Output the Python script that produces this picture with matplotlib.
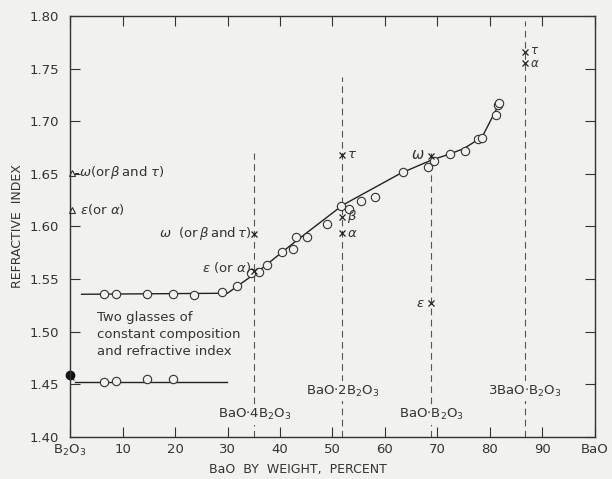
import numpy as np
import matplotlib as mpl
import matplotlib.pyplot as plt

# glass data, BaO wt% vs refractive index
upper_x = [6.5, 8.8, 14.6, 19.6, 23.7, 28.9, 31.9, 34.5, 36.0, 37.5, 40.3, 42.5, 43.0,
           45.1, 48.9, 51.7, 53.1, 55.4, 58.1, 63.5, 68.1, 69.4, 72.4, 75.2, 77.7,
           78.4, 81.1, 81.6, 81.8]
upper_n = [1.5356, 1.5356, 1.5356, 1.5360, 1.5345, 1.5380, 1.5430, 1.5556, 1.5570,
           1.5635, 1.5760, 1.5787, 1.5900, 1.5900, 1.6025, 1.6196, 1.6164, 1.6240,
           1.6284, 1.6520, 1.6570, 1.6627, 1.6690, 1.6720, 1.6830, 1.6840, 1.7060,
           1.7156, 1.7172]
upper_curve_x = [2.2, 30.0, 36.0, 43.0, 52.0, 63.0, 68.8, 72.4, 75.0, 78.5, 81.8]
upper_curve_n = [1.5356, 1.5366, 1.5580, 1.5860, 1.6205, 1.6506, 1.6630, 1.6690,
                 1.6740, 1.6850, 1.7170]

lower_x = [6.5, 8.8, 14.6, 19.6]
lower_n = [1.4526, 1.4535, 1.4555, 1.4555]
lower_line_x = [1.0, 29.9]
lower_line_n = [1.4526, 1.4526]
b2o3_glass = (0.0, 1.4585)

# crystal indices (x marks)
cryst_x = [35.1, 35.1, 51.9, 51.9, 51.9, 68.7, 68.7, 86.7, 86.7]
cryst_n = [1.593, 1.558, 1.668, 1.6094, 1.5936, 1.667, 1.527, 1.766, 1.755]

# B2O3 crystal (triangles)
tri_n = [1.651, 1.616]

# compounds: position, top of dashed line, label height
comp_names = [r'BaO$\cdot$4B$_2$O$_3$', r'BaO$\cdot$2B$_2$O$_3$',
              r'BaO$\cdot$B$_2$O$_3$', r'3BaO$\cdot$B$_2$O$_3$']
comp_x = [35.1, 51.9, 68.8, 86.7]
comp_top = [1.670, 1.742, 1.670, 1.795]
comp_label_n = [1.421, 1.4437, 1.421, 1.4437]

bg = '#f1f1ef'
ink = '#333333'
mpl.rcParams['font.family'] = 'DejaVu Sans'
mpl.rcParams['font.size'] = 10
mpl.rcParams['text.color'] = ink
mpl.rcParams['axes.edgecolor'] = ink
mpl.rcParams['xtick.color'] = ink
mpl.rcParams['ytick.color'] = ink
mpl.rcParams['mathtext.fontset'] = 'dejavusans'

fig = plt.figure(figsize=(6.12, 4.79), dpi=100, facecolor=bg)
ax = fig.add_axes([0.1144, 0.0877, 0.8578, 0.8789], facecolor=bg)

# dashed compound lines
for x, top, name, ly in zip(comp_x, comp_top, comp_names, comp_label_n):
    ax.plot([x, x], [1.40, top], color='#555555', lw=0.8, ls=(0, (6, 4)))
    ax.text(x, ly, name, ha='center', va='center', fontsize=9.5,
            bbox=dict(facecolor=bg, edgecolor='none', pad=1.5))

# curves
ax.plot(upper_curve_x, upper_curve_n, color='#222222', lw=1.0)
ax.plot(lower_line_x, lower_line_n, color='#222222', lw=1.0)
ax.plot([b2o3_glass[0], lower_line_x[0]], [b2o3_glass[1], lower_line_n[0]],
        color='#222222', lw=0.8, ls=(0, (2, 2)), clip_on=False)
ax.plot(upper_x, upper_n, 'o', mfc=bg, mec='#333333', ms=6, mew=0.8)
ax.plot(lower_x, lower_n, 'o', mfc=bg, mec='#333333', ms=6, mew=0.8)
ax.plot([b2o3_glass[0]], [b2o3_glass[1]], 'o', color='#111111', ms=6, clip_on=False)
ax.plot(cryst_x, cryst_n, 'x', color='#222222', ms=4.5, mew=0.9)
ax.plot([0.4, 0.4], tri_n, '^', mfc=bg, mec='#333333', ms=4, mew=0.8, clip_on=False)
ax.plot([0.9, 1.6], [tri_n[0], tri_n[0]], color='#333333', lw=0.7)

# annotations
ax.text(1.7, tri_n[0], r'$\omega$(or$\,\beta\,$and $\tau$)', va='center', fontsize=9.5)
ax.text(1.9, tri_n[1], r'$\epsilon$(or $\alpha$)', va='center', fontsize=9.5)
ax.text(34.5, 1.593, r'$\omega$  (or$\,\beta\,$and$\,\tau$)', va='center', ha='right', fontsize=9.5)
ax.text(34.4, 1.561, r'$\epsilon$ (or $\alpha$)', va='center', ha='right', fontsize=9.5)
ax.text(52.8, 1.668, r'$\tau$', va='center', fontsize=9.5)
ax.text(52.8, 1.6094, r'$\beta$', va='center', fontsize=9.5)
ax.text(52.8, 1.5936, r'$\alpha$', va='center', fontsize=9.5)
ax.text(67.6, 1.668, r'$\omega$', va='center', ha='right', fontsize=10.5)
ax.text(67.6, 1.527, r'$\epsilon$', va='center', ha='right', fontsize=9.5)
ax.text(87.6, 1.767, r'$\tau$', va='center', fontsize=8.5)
ax.text(87.6, 1.755, r'$\alpha$', va='center', fontsize=8.5)
ax.text(5.1, 1.497, 'Two glasses of\nconstant composition\nand refractive index',
        va='center', ha='left', fontsize=9.5, linespacing=1.4)

# axes
ax.set_xlim(0, 100)
ax.set_ylim(1.40, 1.80)
ax.set_xticks(np.arange(0, 101, 10))
ax.set_xticklabels([r'B$_2$O$_3$'] + [str(v) for v in range(10, 100, 10)] + ['BaO'])
yt = np.arange(1.40, 1.801, 0.05)
ax.set_yticks(yt)
ax.set_yticklabels(['%.2f' % v for v in yt])
ax.tick_params(direction='in', top=True, right=True, length=7, width=0.8, labelsize=9.5)
ax.tick_params(axis='x', pad=4)
ax.tick_params(axis='y', pad=8)
for s in ax.spines.values():
    s.set_linewidth(1.0)

fig.text(298 / 612, 1 - 469 / 479, 'BaO  BY  WEIGHT,  PERCENT', ha='center', va='center', fontsize=9)
fig.text(18 / 612, 1 - 226 / 479, 'REFRACTIVE  INDEX', ha='center', va='center',
         rotation=90, fontsize=9)

fig.savefig('out.png', dpi=100, facecolor=bg)
